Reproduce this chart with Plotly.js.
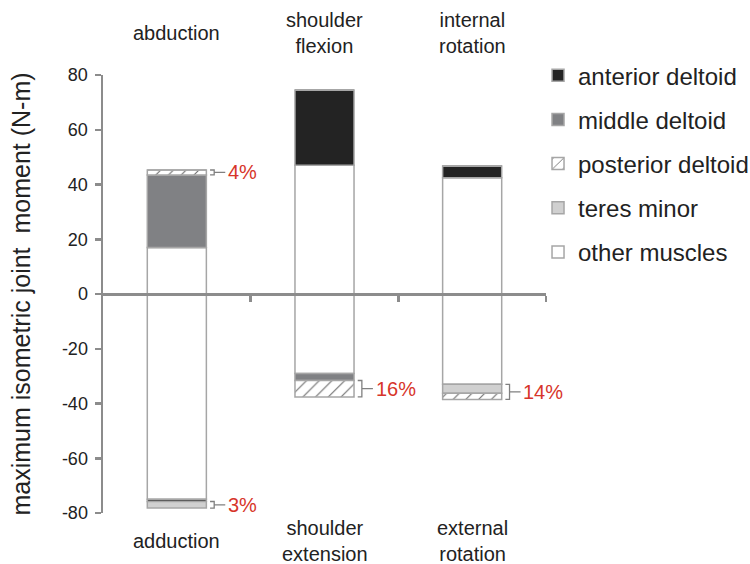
<!DOCTYPE html>
<html>
<head>
<meta charset="utf-8">
<script src="https://cdn.plot.ly/plotly-3.0.1.min.js"></script>
<style>html,body{margin:0;padding:0;background:#fff;}#chart{width:750px;height:564px;}</style>
</head>
<body>
<div id="chart"></div>
<script>
// positions: 0 = abduction/adduction, 1 = flexion/extension, 2 = internal/external rotation
const positions = [0, 1, 2];
const topLabels = ['abduction', 'shoulder<br>flexion', 'internal<br>rotation'];
const bottomLabels = ['adduction', 'shoulder<br>extension', 'external<br>rotation'];
const yTickVals = [-80, -60, -40, -20, 0, 20, 40, 60, 80];
const yTickText = ['-80', '-60', '-40', '-20', '0', '20', '40', '60', '80'];

// stacking order from zero outward: other, anterior, middle, teres, posterior
const muscles = ['other muscles', 'anterior deltoid', 'middle deltoid', 'teres minor', 'posterior deltoid'];
const legendRank = [5, 1, 2, 4, 3];

// positive moments (abduction, flexion, internal rotation)
const otherUp     = [17.0, 47.0, 42.5];
const anteriorUp  = [0, 27.5, 4.3];
const middleUp    = [26.5, 0, 0];
const teresUp     = [0, 0, 0];
const posteriorUp = [1.8, 0, 0];

// negative moments (adduction, extension, external rotation)
const otherDown     = [-75.0, -29.0, -33.0];
const anteriorDown  = [-0.8, 0, 0];
const middleDown    = [0, -2.6, 0];
const teresDown     = [-2.4, 0, -3.3];
const posteriorDown = [0, -6.0, -2.2];

// percentage brackets
const bracketText = ['4%', '3%', '16%', '14%'];
const bracketPos = [0, 0, 1, 2];
const bracketSign = [1, -1, -1, -1];
const bracketMuscles = [['posterior deltoid'], ['teres minor'], ['posterior deltoid'], ['teres minor', 'posterior deltoid']];

const upVals = [otherUp, anteriorUp, middleUp, teresUp, posteriorUp];
const downVals = [otherDown, anteriorDown, middleDown, teresDown, posteriorDown];

const edge = '#a6a6a6';
const styles = {
  'other muscles': {color: '#ffffff'},
  'anterior deltoid': {color: '#232323'},
  'middle deltoid': {color: '#808184'},
  'teres minor': {color: '#d0d0d0'},
  'posterior deltoid': {color: '#ffffff', pattern: {shape: '/', fgcolor: '#6a6a6a', bgcolor: '#ffffff', size: 9, solidity: 0.12}}
};

const barWidth = 0.4;
const traces = [];
muscles.forEach((m, i) => {
  const st = styles[m];
  const mk = {color: st.color, line: {color: edge, width: 1.5}};
  if (st.pattern) mk.pattern = st.pattern;
  traces.push({type: 'bar', name: m, x: positions, y: upVals[i], width: barWidth,
    marker: mk, legendgroup: m, legendrank: legendRank[i], showlegend: true, hoverinfo: 'name+y'});
  traces.push({type: 'bar', name: m, x: positions, y: downVals[i], width: barWidth,
    marker: mk, legendgroup: m, legendrank: legendRank[i], showlegend: false, hoverinfo: 'name+y'});
});

// compute bracket extents from stacks
const shapes = [];
const annotations = [];
bracketText.forEach((t, k) => {
  const p = bracketPos[k];
  const vals = bracketSign[k] > 0 ? upVals : downVals;
  let cum = 0, lo = null, hi = null;
  muscles.forEach((m, i) => {
    const v = vals[i][p];
    const start = cum; cum += v;
    if (bracketMuscles[k].includes(m) && v !== 0) {
      const a = Math.min(start, cum), b = Math.max(start, cum);
      lo = lo === null ? a : Math.min(lo, a);
      hi = hi === null ? b : Math.max(hi, b);
    }
  });
  const xb = p + barWidth / 2 + 0.025;
  const arm = 0.028;
  const mid = (lo + hi) / 2;
  shapes.push({type: 'path', xref: 'x', yref: 'y',
    path: `M${xb},${hi} L${xb + arm},${hi} L${xb + arm},${lo} L${xb},${lo} M${xb + arm},${mid} L${xb + arm + 0.075},${mid}`,
    line: {color: '#808080', width: 1.3}});
  annotations.push({xref: 'x', yref: 'y', x: xb + arm + 0.08, y: mid, text: t, showarrow: false,
    xanchor: 'left', yanchor: 'middle', font: {size: 20, color: '#d7352a'}});
});

positions.forEach((p, i) => {
  annotations.push({xref: 'x', yref: 'paper', x: p, y: 1.096, text: topLabels[i], showarrow: false,
    xanchor: 'center', yanchor: 'middle', font: {size: 20, color: '#222'}});
  annotations.push({xref: 'x', yref: 'paper', x: p, y: -0.064, text: bottomLabels[i], showarrow: false,
    xanchor: 'center', yanchor: 'middle', font: {size: 20, color: '#222'}});
});

const layout = {
  width: 750, height: 564,
  margin: {l: 103, r: 204, t: 75, b: 51, autoexpand: false},
  paper_bgcolor: '#fff', plot_bgcolor: '#fff',
  font: {family: '"Liberation Sans", Arial, sans-serif', color: '#222'},
  barmode: 'relative',
  bargap: 0,
  xaxis: {range: [-0.5, 2.5], anchor: 'free', position: 0.5, showline: true, linecolor: '#8c8c8c', linewidth: 2.5,
    tickmode: 'array', tickvals: [0.5, 1.5, 2.5], ticktext: ['', '', ''], ticks: 'outside', ticklen: 6,
    tickwidth: 2.5, tickcolor: '#8c8c8c', showgrid: false, zeroline: false, fixedrange: true},
  yaxis: {range: [-80, 80], tickmode: 'array', tickvals: yTickVals, ticktext: yTickText,
    showline: true, linecolor: '#8c8c8c', linewidth: 2.5, ticks: 'outside', ticklen: 6, tickwidth: 2.5,
    tickcolor: '#8c8c8c', showgrid: false, zeroline: false, tickfont: {size: 18, color: '#222'}, ticklabelstandoff: 3,
    title: {text: 'maximum isometric joint  moment (N-m)', font: {size: 25, color: '#222'}, standoff: 24}},
  legend: {x: 0.982, xanchor: 'left', y: 1.05, yanchor: 'top', font: {size: 24, color: '#222'},
    traceorder: 'grouped', tracegroupgap: 10, bgcolor: 'rgba(0,0,0,0)'},
  showlegend: true,
  shapes: shapes,
  annotations: annotations
};

Plotly.newPlot('chart', traces, layout, {displayModeBar: false, staticPlot: true});
</script>
</body>
</html>
